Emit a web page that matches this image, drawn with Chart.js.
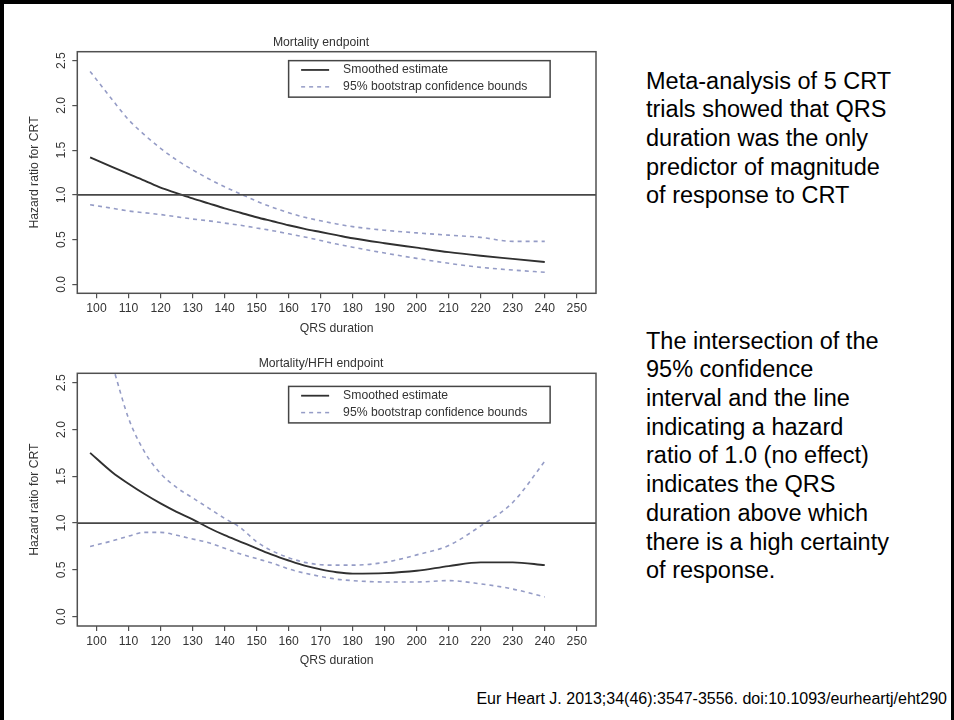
<!DOCTYPE html>
<html>
<head>
<meta charset="utf-8">
<title>QRS duration and response to CRT</title>
<script src="https://cdn.jsdelivr.net/npm/chart.js@4.4.1/dist/chart.umd.min.js"></script>
<style>
  html, body { margin: 0; padding: 0; background: #fff; }
  body { width: 954px; height: 720px; position: relative; overflow: hidden;
         font-family: "Liberation Sans", Arial, Helvetica, sans-serif; }
  .frame { position: absolute; left: 0; top: 0; width: 954px; height: 720px; box-sizing: border-box;
           border-left: 4px solid #000; border-top: 4px solid #000; border-right: 3px solid #000; }
  canvas { position: absolute; left: 0; }
  .note { position: absolute; left: 646px; font-size: 23.5px; line-height: 28.7px; color: #000; white-space: nowrap; }
  .cite { position: absolute; right: 7px; top: 690px; font-size: 16px; color: #000; white-space: nowrap; }
</style>
</head>
<body>
<div class="frame"></div>
<canvas id="mortality" width="620" height="345" style="top:0px"></canvas>
<canvas id="hfh" width="620" height="345" style="top:330px"></canvas>

<div class="note" style="top:66.6px">Meta-analysis of 5 CRT<br>trials showed that QRS<br>duration was the only<br>predictor of magnitude<br>of response to CRT</div>
<div class="note" style="top:326.6px">The intersection of the<br>95% confidence<br>interval and the line<br>indicating a hazard<br>ratio of 1.0 (no effect)<br>indicates the QRS<br>duration above which<br>there is a high certainty<br>of response.</div>
<div class="cite">Eur Heart J. 2013;34(46):3547-3556. doi:10.1093/eurheartj/eht290</div>

<script>
// QRS duration (ms) at which the curves are tabulated
const qrs = [98, 105, 110, 115, 120, 125, 130, 135, 140, 145, 150, 155, 160, 165, 170, 175, 180, 190, 200, 210, 220, 230, 240];

// Mortality endpoint: smoothed hazard ratio and 95% bootstrap bounds
const mortSmooth = [1.42, 1.31, 1.235, 1.16, 1.08, 1.02, 0.96, 0.905, 0.85, 0.80, 0.75, 0.705, 0.66, 0.62, 0.585, 0.55, 0.515, 0.46, 0.41, 0.36, 0.32, 0.285, 0.25];
const mortUpper  = [2.38, 2.06, 1.84, 1.67, 1.52, 1.39, 1.28, 1.18, 1.09, 1.01, 0.93, 0.86, 0.80, 0.75, 0.71, 0.675, 0.645, 0.605, 0.575, 0.55, 0.525, 0.48, 0.48];
const mortLower  = [0.89, 0.85, 0.82, 0.80, 0.78, 0.755, 0.73, 0.71, 0.685, 0.66, 0.63, 0.60, 0.565, 0.53, 0.49, 0.45, 0.415, 0.35, 0.29, 0.235, 0.19, 0.16, 0.135];

// Mortality/HFH endpoint
const hfhSmooth = [1.75, 1.54, 1.42, 1.31, 1.21, 1.12, 1.04, 0.95, 0.87, 0.80, 0.73, 0.66, 0.60, 0.545, 0.505, 0.475, 0.46, 0.465, 0.49, 0.54, 0.58, 0.58, 0.55];
const hfhUpper  = [3.40, 2.68, 2.12, 1.76, 1.53, 1.38, 1.27, 1.16, 1.05, 0.95, 0.80, 0.70, 0.63, 0.58, 0.555, 0.55, 0.55, 0.58, 0.66, 0.76, 0.97, 1.22, 1.66];
const hfhLower  = [0.75, 0.81, 0.86, 0.90, 0.90, 0.87, 0.83, 0.79, 0.73, 0.67, 0.62, 0.57, 0.51, 0.465, 0.43, 0.40, 0.385, 0.37, 0.37, 0.385, 0.35, 0.295, 0.21];

// Axis ticks and labels
const xTicks = [100, 110, 120, 130, 140, 150, 160, 170, 180, 190, 200, 210, 220, 230, 240, 250];
const yTicks = [0.0, 0.5, 1.0, 1.5, 2.0, 2.5];
const referenceHR = 1.0;
const xTitle = 'QRS duration';
const yTitle = 'Hazard ratio for CRT';
const legendLabels = ['Smoothed estimate', '95% bootstrap confidence bounds'];

const FONT = '"Liberation Sans", Arial, Helvetica, sans-serif';
const TEXT = '#333';
const SOLID = '#303030';
const DASH = '#959cc6';
const DASH_PATTERN = [4, 4];

function pts(values) {
  return qrs.map((q, i) => ({ x: q, y: values[i] }));
}

// Draws the R-style frame: box, reference line, rotated y labels, titles and legend
const rFrame = {
  id: 'rFrame',
  afterDatasetsDraw(chart, args, opts) {
    const { ctx, chartArea: a, scales: { x, y } } = chart;
    ctx.save();

    // hazard ratio = 1 line
    const yRef = y.getPixelForValue(referenceHR);
    ctx.strokeStyle = '#474747';
    ctx.lineWidth = 1.8;
    ctx.beginPath();
    ctx.moveTo(a.left, yRef);
    ctx.lineTo(a.right, yRef);
    ctx.stroke();

    // plot box
    ctx.strokeStyle = '#505050';
    ctx.lineWidth = 1.5;
    ctx.strokeRect(a.left, a.top, a.right - a.left, a.bottom - a.top);

    ctx.fillStyle = TEXT;
    ctx.font = '12.2px ' + FONT;
    ctx.textAlign = 'center';
    ctx.textBaseline = 'middle';

    // y tick labels, parallel to the axis
    yTicks.forEach(v => {
      ctx.save();
      ctx.translate(a.left - 15.6, y.getPixelForValue(v));
      ctx.rotate(-Math.PI / 2);
      ctx.fillText(v.toFixed(1), 0, 0);
      ctx.restore();
    });

    // y axis title
    ctx.save();
    ctx.translate(a.left - 42.3, (a.top + a.bottom) / 2);
    ctx.rotate(-Math.PI / 2);
    ctx.fillText(yTitle, 0, 0);
    ctx.restore();

    // x axis title
    ctx.fillText(xTitle, (a.left + a.right) / 2, a.bottom + 35);

    // main title
    ctx.fillText(opts.title, opts.titleX, a.top - 9.5);

    // legend box anchored in data coordinates (top-left corner)
    const lx = x.getPixelForValue(opts.legendAt[0]);
    const ly = y.getPixelForValue(opts.legendAt[1]);
    const lw = 261.5, lh = 36.5;
    ctx.strokeStyle = '#454545';
    ctx.lineWidth = 1.5;
    ctx.strokeRect(lx, ly, lw, lh);

    const rows = [ly + 9.3, ly + 26.2];
    ctx.lineWidth = 1.8;
    ctx.strokeStyle = SOLID;
    ctx.beginPath();
    ctx.moveTo(lx + 12.5, rows[0]);
    ctx.lineTo(lx + 40.5, rows[0]);
    ctx.stroke();

    ctx.strokeStyle = DASH;
    ctx.lineWidth = 1.5;
    ctx.setLineDash(DASH_PATTERN);
    ctx.beginPath();
    ctx.moveTo(lx + 12.5, rows[1]);
    ctx.lineTo(lx + 40.5, rows[1]);
    ctx.stroke();
    ctx.setLineDash([]);

    ctx.textAlign = 'left';
    ctx.fillText(legendLabels[0], lx + 54.5, rows[0]);
    ctx.fillText(legendLabels[1], lx + 54.5, rows[1]);

    ctx.restore();
  }
};

function makeChart(id, title, smooth, upper, lower, legendAt, topPad, bottomPad) {
  const line = (label, data, color, width, dash) => ({
    label, data: pts(data),
    borderColor: color, borderWidth: width, borderDash: dash,
    pointRadius: 0, fill: false, cubicInterpolationMode: 'monotone', clip: 0
  });
  return new Chart(document.getElementById(id), {
    type: 'line',
    data: {
      datasets: [
        line('Upper bound', upper, DASH, 1.6, DASH_PATTERN),
        line('Lower bound', lower, DASH, 1.6, DASH_PATTERN),
        line(legendLabels[0], smooth, SOLID, 1.9, [])
      ]
    },
    options: {
      responsive: false,
      animation: false,
      devicePixelRatio: 1,
      layout: { padding: { left: 0, top: topPad, right: 24, bottom: bottomPad } },
      plugins: {
        legend: { display: false },
        tooltip: { enabled: false },
        rFrame: { title, titleX: 321, legendAt }
      },
      scales: {
        x: {
          type: 'linear', min: 94, max: 256,
          afterBuildTicks: s => { s.ticks = xTicks.map(v => ({ value: v })); },
          afterFit: s => { s.height = 40; },
          border: { display: false },
          grid: { display: true, drawOnChartArea: false, drawTicks: true, tickLength: 5, color: '#505050', lineWidth: 1.2 },
          ticks: { font: { family: FONT, size: 12.2 }, color: TEXT, padding: 3.5, minRotation: 0, maxRotation: 0, autoSkip: false }
        },
        y: {
          type: 'linear', min: -0.1, max: 2.6,
          afterBuildTicks: s => { s.ticks = yTicks.map(v => ({ value: v })); },
          afterFit: s => { s.width = 77.3; },
          border: { display: false },
          grid: { display: true, drawOnChartArea: false, drawTicks: true, tickLength: 5, color: '#505050', lineWidth: 1.2 },
          ticks: { display: false }
        }
      }
    },
    plugins: [rFrame]
  });
}

makeChart('mortality', 'Mortality endpoint', mortSmooth, mortUpper, mortLower, [160, 2.5], 51.7, 11.7);
makeChart('hfh', 'Mortality/HFH endpoint', hfhSmooth, hfhUpper, hfhLower, [160, 2.46], 43.3, 9);
</script>
</body>
</html>
